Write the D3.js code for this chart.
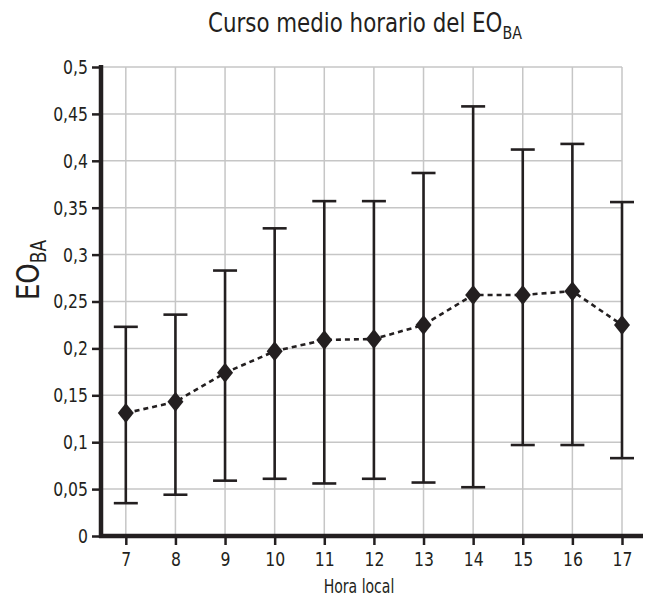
<!DOCTYPE html>
<html>
<head>
<meta charset="utf-8">
<script src="https://cdn.jsdelivr.net/npm/d3@7"></script>
<style>
  html, body { margin: 0; padding: 0; background: #fff; }
  svg text { font-family: "Liberation Sans Narrow", "DejaVu Sans Condensed", "Roboto Condensed", sans-serif; fill: #231f20; }
</style>
</head>
<body>
<svg id="chart" width="645" height="600"></svg>
<script>
const hours = [7, 8, 9, 10, 11, 12, 13, 14, 15, 16, 17];
const meanValues = [0.131, 0.143, 0.174, 0.197, 0.209, 0.210, 0.225, 0.257, 0.257, 0.261, 0.225];
const lowValues = [0.035, 0.044, 0.059, 0.061, 0.056, 0.061, 0.057, 0.052, 0.097, 0.097, 0.083];
const highValues = [0.223, 0.236, 0.283, 0.328, 0.357, 0.357, 0.387, 0.458, 0.412, 0.418, 0.356];
const yTicks = [0, 0.05, 0.1, 0.15, 0.2, 0.25, 0.3, 0.35, 0.4, 0.45, 0.5];

const ink = "#231f20";
const narrow = 0.87;
const svg = d3.select("#chart");
const x = d3.scaleLinear().domain([6.5, 17]).range([101, 622]);
const y = d3.scaleLinear().domain([0, 0.5]).range([536, 67]);

// grid
const grid = svg.append("g");
grid.selectAll("line.h").data(yTicks.filter(d => d > 0)).join("line")
  .attr("x1", x(6.5)).attr("x2", x(17))
  .attr("y1", d => y(d)).attr("y2", d => y(d))
  .attr("stroke", "#c6c6c6").attr("stroke-width", 1.5);
grid.selectAll("line.v").data(hours).join("line")
  .attr("x1", d => x(d)).attr("x2", d => x(d))
  .attr("y1", y(0.5)).attr("y2", y(0))
  .attr("stroke", "#c6c6c6").attr("stroke-width", 1.5);

// axes
const fmt = d => d === 0 ? "0" : String(d).replace(".", ",");
const yAxis = svg.append("g").attr("transform", `translate(${x(6.5)},0)`)
  .call(d3.axisLeft(y).tickValues(yTicks).tickFormat(fmt).tickSize(9).tickPadding(6));
yAxis.select(".domain").remove();
yAxis.selectAll(".tick line").attr("stroke", ink).attr("stroke-width", 2.5);
yAxis.selectAll(".tick text").attr("font-size", 20).style("font-family", null)
  .attr("transform", `scale(${narrow},1)`);

const xAxis = svg.append("g").attr("transform", `translate(0,${y(0)})`)
  .call(d3.axisBottom(x).tickValues(hours).tickFormat(d3.format("d")).tickSize(9).tickPadding(7));
xAxis.select(".domain").remove();
xAxis.selectAll(".tick line").attr("stroke", ink).attr("stroke-width", 2.5);
xAxis.selectAll(".tick text").attr("font-size", 20).style("font-family", null)
  .attr("transform", `scale(${narrow},1)`);

svg.append("line").attr("x1", x(6.5)).attr("x2", x(6.5))
  .attr("y1", y(0.5) - 2).attr("y2", y(0) + 2)
  .attr("stroke", ink).attr("stroke-width", 4.5);
svg.append("line").attr("x1", x(6.5) - 2).attr("x2", 643)
  .attr("y1", y(0)).attr("y2", y(0))
  .attr("stroke", ink).attr("stroke-width", 4.5);

// error bars
const data = hours.map((h, i) => ({ h, m: meanValues[i], lo: lowValues[i], hi: highValues[i] }));
const eb = svg.append("g").attr("stroke", ink).attr("stroke-width", 2.6);
eb.selectAll("line.stem").data(data).join("line")
  .attr("x1", d => x(d.h)).attr("x2", d => x(d.h))
  .attr("y1", d => y(d.lo)).attr("y2", d => y(d.hi));
eb.selectAll("line.capHi").data(data).join("line")
  .attr("x1", d => x(d.h) - 12).attr("x2", d => x(d.h) + 12)
  .attr("y1", d => y(d.hi)).attr("y2", d => y(d.hi));
eb.selectAll("line.capLo").data(data).join("line")
  .attr("x1", d => x(d.h) - 12).attr("x2", d => x(d.h) + 12)
  .attr("y1", d => y(d.lo)).attr("y2", d => y(d.lo));

// mean line
svg.append("path").datum(data)
  .attr("d", d3.line().x(d => x(d.h)).y(d => y(d.m)))
  .attr("fill", "none").attr("stroke", ink).attr("stroke-width", 2.6)
  .attr("stroke-dasharray", "5,4");

// diamonds
svg.append("g").selectAll("path").data(data).join("path")
  .attr("transform", d => `translate(${x(d.h)},${y(d.m)})`)
  .attr("d", "M0,-10L8,0L0,10L-8,0Z")
  .attr("fill", ink);

// titles
const title = svg.append("text").attr("transform", "translate(365,32) scale(0.88,1)")
  .attr("text-anchor", "middle").attr("font-size", 27);
title.append("tspan").text("Curso medio horario del EO");
title.append("tspan").attr("font-size", 18).attr("dy", 7).text("BA");

const yt = svg.append("text").attr("transform", "translate(39,270) rotate(-90) scale(0.9,1)")
  .attr("text-anchor", "middle").attr("font-size", 32);
yt.append("tspan").text("EO");
yt.append("tspan").attr("font-size", 21).attr("dy", 7).text("BA");

svg.append("text").attr("transform", "translate(359,593) scale(0.78,1)")
  .attr("text-anchor", "middle").attr("font-size", 20).text("Hora local");
</script>
</body>
</html>
